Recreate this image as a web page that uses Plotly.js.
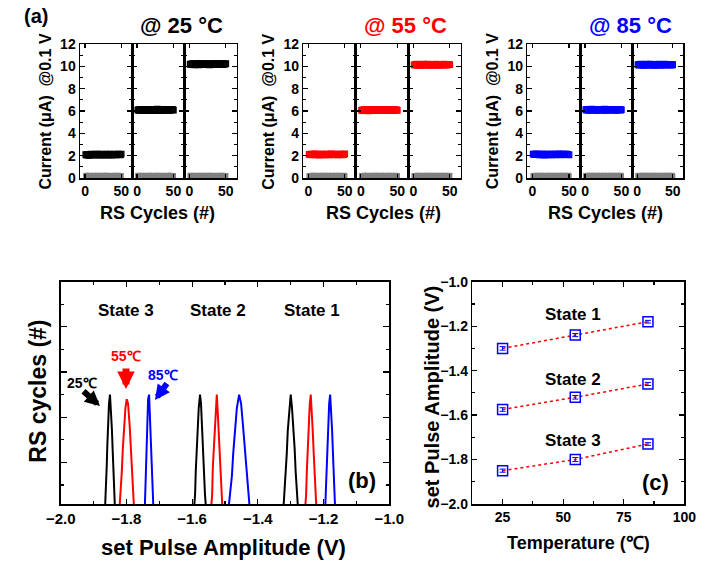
<!DOCTYPE html>
<html><head><meta charset="utf-8">
<script src="https://cdn.plot.ly/plotly-3.0.1.min.js"></script>
<style>html,body{margin:0;padding:0;background:#fff}#chart{width:712px;height:564px}</style>
</head><body><div id="chart"></div>
<script>
// ---------------- DATA ----------------
const cycles = [1,2,3,4,5,6,7,8,9,10,11,12,13,14,15,16,17,18,19,20,21,22,23,24,25,26,27,28,29,30,31,32,33,34,35,36,37,38,39,40,41,42,43,44,45,46,47,48,49,50];
const tempLabels = ['@ 25 °C','@ 55 °C','@ 85 °C'];
const tempColors = ['#000000','#ff0000','#0000ff'];
const xTickVals = [0,50];

// (a) read current (uA) at 0.1 V vs cycle
const cur25_2uA = [2.10,2.05,2.12,2.08,2.03,2.11,2.07,2.14,2.06,2.09,2.12,2.04,2.08,2.13,2.10,2.06,2.09,2.15,2.07,2.11,2.05,2.10,2.13,2.08,2.06,2.12,2.09,2.04,2.11,2.14,2.07,2.10,2.06,2.13,2.08,2.11,2.05,2.09,2.12,2.07,2.14,2.10,2.06,2.11,2.08,2.13,2.09,2.12,2.07,2.15];
const cur25_6uA = [6.08,6.12,6.05,6.10,6.14,6.07,6.03,6.11,6.09,6.13,6.06,6.10,6.15,6.08,6.04,6.12,6.09,6.07,6.13,6.10,6.05,6.11,6.14,6.08,6.06,6.12,6.09,6.16,6.07,6.11,6.04,6.10,6.13,6.08,6.12,6.06,6.09,6.14,6.10,6.07,6.12,6.08,6.15,6.11,6.06,6.10,6.13,6.09,6.12,6.08];
const cur25_10uA = [10.17,10.22,10.14,10.19,10.24,10.16,10.12,10.20,10.23,10.15,10.18,10.26,10.13,10.21,10.17,10.19,10.24,10.16,10.14,10.22,10.18,10.20,10.25,10.15,10.17,10.23,10.19,10.13,10.21,10.18,10.24,10.16,10.20,10.22,10.14,10.19,10.26,10.17,10.21,10.15,10.23,10.18,10.20,10.16,10.24,10.19,10.22,10.17,10.21,10.25];
const cur55_2uA = [2.12,2.08,2.15,2.10,2.06,2.13,2.09,2.11,2.16,2.07,2.10,2.14,2.08,2.12,2.05,2.11,2.09,2.13,2.07,2.15,2.10,2.08,2.12,2.06,2.14,2.09,2.11,2.07,2.13,2.10,2.16,2.08,2.12,2.09,2.06,2.14,2.11,2.08,2.13,2.10,2.07,2.12,2.15,2.09,2.11,2.06,2.13,2.10,2.12,2.17];
const cur55_6uA = [6.06,6.10,6.03,6.08,6.12,6.05,6.09,6.14,6.07,6.02,6.11,6.08,6.13,6.06,6.10,6.04,6.09,6.12,6.07,6.11,6.05,6.08,6.14,6.10,6.06,6.12,6.03,6.09,6.11,6.07,6.13,6.08,6.05,6.10,6.12,6.06,6.09,6.14,6.07,6.11,6.04,6.10,6.08,6.13,6.06,6.09,6.12,6.07,6.10,6.05];
const cur55_10uA = [10.14,10.10,10.17,10.12,10.19,10.08,10.15,10.13,10.18,10.11,10.16,10.09,10.14,10.20,10.12,10.17,10.10,10.15,10.13,10.19,10.11,10.16,10.14,10.08,10.18,10.12,10.15,10.10,10.17,10.13,10.20,10.11,10.14,10.16,10.09,10.18,10.13,10.15,10.11,10.17,10.14,10.19,10.12,10.16,10.10,10.15,10.18,10.13,10.17,10.14];
const cur85_2uA = [2.15,2.10,2.13,2.08,2.12,2.16,2.09,2.11,2.06,2.14,2.10,2.12,2.07,2.15,2.09,2.13,2.05,2.11,2.08,2.14,2.10,2.06,2.12,2.09,2.15,2.07,2.11,2.13,2.08,2.10,2.14,2.06,2.12,2.09,2.11,2.16,2.08,2.13,2.10,2.07,2.12,2.15,2.09,2.11,2.14,2.08,2.13,2.10,2.12,2.06];
const cur85_6uA = [6.12,6.08,6.15,6.10,6.06,6.13,6.09,6.11,6.16,6.07,6.12,6.10,6.14,6.08,6.11,6.05,6.13,6.09,6.15,6.10,6.07,6.12,6.14,6.08,6.11,6.09,6.16,6.06,6.13,6.10,6.08,6.12,6.15,6.09,6.11,6.07,6.14,6.10,6.12,6.08,6.13,6.11,6.06,6.15,6.09,6.12,6.10,6.14,6.08,6.11];
const cur85_10uA = [10.13,10.17,10.10,10.15,10.19,10.12,10.16,10.09,10.14,10.18,10.11,10.15,10.20,10.13,10.10,10.17,10.14,10.12,10.19,10.15,10.11,10.16,10.13,10.18,10.09,10.14,10.17,10.12,10.15,10.20,10.11,10.16,10.13,10.18,10.10,10.14,10.17,10.12,10.19,10.15,10.11,10.16,10.14,10.18,10.12,10.15,10.13,10.17,10.10,10.16];
// high-resistance (reset) read current, grey
const hrs25 = [0.20,0.23,0.17,0.21,0.19,0.24,0.18,0.22,0.20,0.16,0.21,0.23,0.19,0.17,0.22,0.20,0.24,0.18,0.21,0.19,0.23,0.17,0.20,0.22,0.18,0.21,0.24,0.19,0.17,0.23,0.20,0.18,0.22,0.21,0.19,0.16,0.23,0.20,0.18,0.22,0.21,0.17,0.24,0.19,0.20,0.23,0.18,0.21,0.19,0.22];
const hrs55 = [0.19,0.22,0.20,0.17,0.23,0.21,0.18,0.24,0.20,0.19,0.22,0.17,0.21,0.23,0.18,0.20,0.22,0.19,0.24,0.17,0.21,0.20,0.23,0.18,0.22,0.19,0.21,0.24,0.17,0.20,0.22,0.18,0.23,0.19,0.21,0.20,0.17,0.24,0.22,0.18,0.20,0.23,0.19,0.21,0.17,0.22,0.20,0.24,0.18,0.21];
const hrs85 = [0.21,0.18,0.23,0.20,0.17,0.22,0.19,0.24,0.21,0.18,0.20,0.23,0.17,0.22,0.19,0.21,0.24,0.18,0.20,0.22,0.17,0.23,0.19,0.21,0.18,0.24,0.20,0.22,0.17,0.19,0.23,0.21,0.18,0.20,0.22,0.24,0.19,0.17,0.21,0.23,0.18,0.20,0.22,0.19,0.24,0.17,0.21,0.20,0.23,0.18];

// (b) set pulse amplitude distributions (V, counts)
const b25_s3_x = [-1.865,-1.863,-1.860,-1.858,-1.856,-1.853,-1.850,-1.847,-1.844,-1.842,-1.840,-1.837,-1.835];
const b25_s3_y = [0,3,9,14,18,23,25,22,17,13,8,4,0];
const b55_s3_x = [-1.821,-1.818,-1.814,-1.811,-1.808,-1.803,-1.799,-1.795,-1.790,-1.787,-1.784,-1.780,-1.777];
const b55_s3_y = [0,3,8,13,17,22,24,23,18,13,9,4,0];
const b85_s3_x = [-1.744,-1.742,-1.740,-1.738,-1.736,-1.734,-1.731,-1.729,-1.727,-1.725,-1.723,-1.721,-1.718];
const b85_s3_y = [0,4,9,14,19,24,25,21,16,12,8,3,0];
const b25_s2_x = [-1.594,-1.591,-1.589,-1.586,-1.583,-1.580,-1.576,-1.573,-1.570,-1.567,-1.564,-1.561,-1.558];
const b25_s2_y = [0,3,8,13,18,22,25,23,18,12,8,3,0];
const b55_s2_x = [-1.542,-1.539,-1.537,-1.534,-1.532,-1.528,-1.525,-1.522,-1.519,-1.516,-1.514,-1.511,-1.508];
const b55_s2_y = [0,3,9,13,18,23,25,21,17,12,8,4,0];
const b85_s2_x = [-1.489,-1.484,-1.479,-1.475,-1.470,-1.464,-1.457,-1.451,-1.445,-1.440,-1.435,-1.430,-1.425];
const b85_s2_y = [0,3,7,12,17,22,25,23,18,13,8,3,0];
const b25_s1_x = [-1.322,-1.319,-1.315,-1.312,-1.309,-1.304,-1.300,-1.296,-1.291,-1.288,-1.285,-1.281,-1.278];
const b25_s1_y = [0,3,8,12,17,22,25,22,17,13,8,4,0];
const b55_s1_x = [-1.256,-1.253,-1.251,-1.248,-1.246,-1.242,-1.239,-1.236,-1.233,-1.230,-1.228,-1.225,-1.222];
const b55_s1_y = [0,3,8,13,18,23,25,22,17,12,8,3,0];
const b85_s1_x = [-1.195,-1.193,-1.190,-1.188,-1.186,-1.183,-1.180,-1.177,-1.174,-1.172,-1.170,-1.167,-1.165];
const b85_s1_y = [0,4,9,13,18,23,25,22,17,13,9,4,0];

// (c) mean set pulse amplitude vs temperature
const temperature = [25,55,85];
const state1V = [-1.30,-1.24,-1.18];
const state2V = [-1.575,-1.52,-1.46];
const state3V = [-1.85,-1.80,-1.73];
const state1Err = [0.008,0.007,0.006];
const state2Err = [0.008,0.008,0.007];
const state3Err = [0.007,0.009,0.006];

// ---------------- LAYOUT ----------------
const W = 712, H = 564;
const FONT = 'Liberation Sans, Arial, Helvetica, sans-serif';
const px = v => v / W;
const py = v => 1 - v / H;

const topPanelsX = [[80,132],[132,184.3],[184.3,236.7],
                    [303.3,355.7],[355.7,408.3],[408.3,460.7],
                    [527.3,580],[580,632.3],[632.3,683.3]];
const topSeries = [[cur25_2uA,cur25_6uA,cur25_10uA],[cur55_2uA,cur55_6uA,cur55_10uA],[cur85_2uA,cur85_6uA,cur85_10uA]];
const hrsSeries = [hrs25,hrs55,hrs85];

const data = [];
const layout = {
  width: W, height: H, margin: {l:0,r:0,t:0,b:0},
  paper_bgcolor: '#fff', plot_bgcolor: 'rgba(0,0,0,0)',
  showlegend: false,
  font: {family: FONT, size: 14, color: '#000', weight: 'bold'},
  annotations: []
};

function baseAxis(extra) {
  return Object.assign({
    showline: true, linewidth: 1.5, linecolor: '#000', mirror: 'ticks',
    ticks: 'inside', tickwidth: 1.2, tickcolor: '#000', ticklen: 5,
    showgrid: false, zeroline: false,
    tickfont: {family: FONT, size: 14, color: '#000', weight: 'bold'}
  }, extra);
}

for (let k = 0; k < 9; k++) {
  const g = Math.floor(k / 3), s = k % 3, n = k + 1;
  const xa = 'xaxis' + (n === 1 ? '' : n), ya = 'yaxis' + (n === 1 ? '' : n);
  layout[xa] = baseAxis({domain: [px(topPanelsX[k][0]), px(topPanelsX[k][1])], range: [-7, 65],
    anchor: 'y' + (n === 1 ? '' : n), tickvals: xTickVals, ticklen: 4});
  layout[ya] = baseAxis({domain: [py(178), py(44)], range: [0, 12], anchor: 'x' + (n === 1 ? '' : n),
    tick0: 0, dtick: 2, ticklen: 5, showticklabels: s === 0,
    minor: {dtick: 1, ticks: 'inside', ticklen: 3, tickwidth: 1.2, tickcolor: '#000'}});
  const xr = 'x' + (n === 1 ? '' : n), yr = 'y' + (n === 1 ? '' : n);
  data.push({x: cycles, y: hrsSeries[g], xaxis: xr, yaxis: yr, type: 'scatter', mode: 'markers',
    marker: {symbol: 'square-open', size: 4, color: '#808080', line: {width: 1.3, color: '#808080'}}});
  data.push({x: cycles, y: topSeries[g][s], xaxis: xr, yaxis: yr, type: 'scatter', mode: 'markers',
    marker: {symbol: 'square-open', size: 5.5, color: tempColors[g], line: {width: 1.2, color: tempColors[g]}}});
}

// panel (b)
layout.xaxis10 = baseAxis({domain: [px(60.7), px(389.3)], range: [-2, -1], anchor: 'y10',
  tick0: -2, dtick: 0.2, tickformat: '.1f', ticklen: 5,
  tickfont: {family: FONT, size: 15, color: '#000', weight: 'bold'},
  minor: {dtick: 0.1, ticks: 'inside', ticklen: 3, tickwidth: 1.2, tickcolor: '#000'}});
layout.yaxis10 = baseAxis({domain: [py(504), py(281.7)], range: [0.8, 50], anchor: 'x10',
  tick0: 0, dtick: 10, ticklen: 6, showticklabels: false,
  minor: {dtick: 5, ticks: 'inside', ticklen: 3, tickwidth: 1.2, tickcolor: '#000'}});
const bCurves = [
  [b25_s3_x,b25_s3_y,0],[b55_s3_x,b55_s3_y,1],[b85_s3_x,b85_s3_y,2],
  [b25_s2_x,b25_s2_y,0],[b55_s2_x,b55_s2_y,1],[b85_s2_x,b85_s2_y,2],
  [b25_s1_x,b25_s1_y,0],[b55_s1_x,b55_s1_y,1],[b85_s1_x,b85_s1_y,2]];
bCurves.forEach(c => data.push({x: c[0], y: c[1], xaxis: 'x10', yaxis: 'y10', type: 'scatter', mode: 'lines',
  line: {color: tempColors[c[2]], width: 2}}));

// panel (c)
layout.xaxis11 = baseAxis({domain: [px(472.3), px(684.3)], range: [12.5, 100], anchor: 'y11',
  tickvals: [25,50,75,100], ticklen: 5,
  minor: {tickvals: [12.5,37.5,62.5,87.5], ticks: 'inside', ticklen: 3, tickwidth: 1.2, tickcolor: '#000'}});
layout.yaxis11 = baseAxis({domain: [py(504), py(281.7)], range: [-2, -1], anchor: 'x11',
  tick0: -2, dtick: 0.2, tickformat: '.1f', ticklen: 5,
  minor: {dtick: 0.1, ticks: 'inside', ticklen: 3, tickwidth: 1.2, tickcolor: '#000'}});
[[state1V,state1Err],[state2V,state2Err],[state3V,state3Err]].forEach(sv => {
  data.push({x: temperature, y: sv[0], xaxis: 'x11', yaxis: 'y11', type: 'scatter', mode: 'lines',
    line: {color: '#ff0000', width: 1.5, dash: 'dot'}});
  data.push({x: temperature, y: sv[0], xaxis: 'x11', yaxis: 'y11', type: 'scatter', mode: 'markers',
    error_y: {type: 'data', array: sv[1], visible: true, color: '#0000ff', thickness: 1, width: 3},
    marker: {symbol: 'square-open', size: 10, color: '#0000ff', line: {width: 1.5, color: '#0000ff'}}});
});

// ---------------- TEXT ----------------
function ann(text, x, y, size, color, angle) {
  layout.annotations.push({text: text, xref: 'paper', yref: 'paper', x: px(x), y: py(y),
    xanchor: 'center', yanchor: 'middle', showarrow: false, textangle: angle || 0,
    font: {family: FONT, size: size, color: color || '#000', weight: 'bold'}});
}
function arrow(hx, hy, ax, ay, color, w) {
  layout.annotations.push({text: '', xref: 'paper', yref: 'paper', x: px(hx), y: py(hy),
    ax: ax, ay: ay, showarrow: true, arrowhead: 2, arrowsize: 0.5, arrowwidth: w, arrowcolor: color});
}
ann('(a)', 36, 16, 20);
ann(tempLabels[0], 181.7, 25, 22, tempColors[0]);
ann(tempLabels[1], 405, 25, 22, tempColors[1]);
ann(tempLabels[2], 630, 25, 22, tempColors[2]);
[45, 268.3, 492.7].forEach(x => ann('Current (μA)  @0.1 V', x, 111.5, 16, '#000', -90));
[157.5, 383.3, 605].forEach(x => ann('RS Cycles (#)', x, 213, 18));

ann('State 3', 126, 310, 17);
ann('State 2', 218.3, 310, 17);
ann('State 1', 311.7, 310, 17);
ann('25℃', 82, 383, 14, '#000');
ann('55℃', 126, 356, 14, '#ff0000');
ann('85℃', 163, 375, 14, '#0000ff');
arrow(100, 406, -18, -16, '#000000', 6);
arrow(126, 389, 0, -22, '#ff0000', 7);
arrow(155, 400, 13, -18, '#0000ff', 6);
ann('(b)', 362, 480, 22);
ann('RS cycles (#)', 38, 391.7, 23, '#000', -90);
ann('set Pulse Amplitude (V)', 223, 547, 22);

ann('State 1', 573.3, 315, 17);
ann('State 2', 573.3, 379, 17);
ann('State 3', 573.3, 440, 17);
ann('(c)', 655, 482, 22);
ann('set Pulse Amplitude (V)', 431.7, 396.7, 20, '#000', -90);
ann('Temperature (℃)', 578.3, 543.3, 18);

Plotly.newPlot('chart', data, layout, {staticPlot: true, displayModeBar: false});
</script></body></html>
